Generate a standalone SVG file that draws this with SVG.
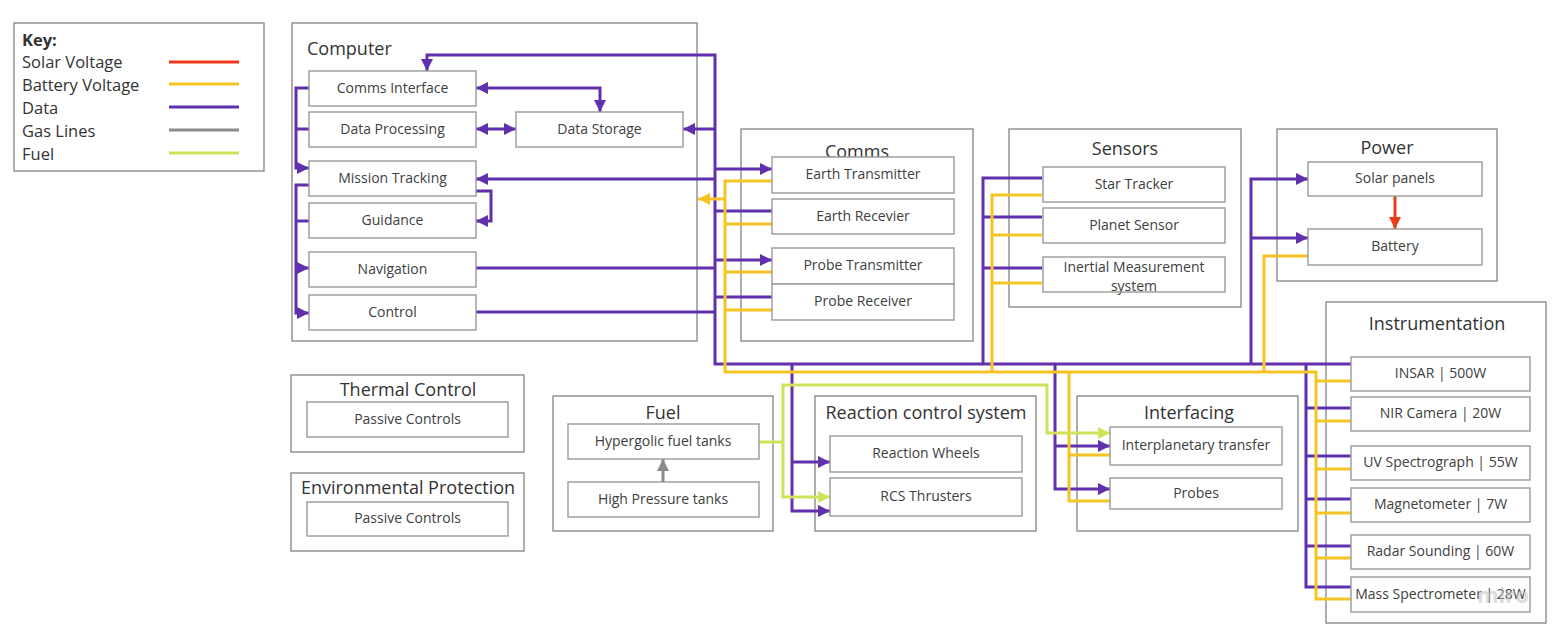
<svg xmlns="http://www.w3.org/2000/svg" width="1562" height="639" viewBox="0 0 1562 639">
<style>
.bg{fill:#fff}
.grp{fill:#fff;stroke:#8c8c8c;stroke-width:1.4}
.nd{fill:#fff;stroke:#9a9a9a;stroke-width:1.4}
.t{font-family:"Open Sans","Liberation Sans",sans-serif;font-size:14px;fill:#404040;text-anchor:middle}
.h{font-family:"Open Sans","Liberation Sans",sans-serif;font-size:18px;fill:#333;text-anchor:middle}
.k{font-family:"Open Sans","Liberation Sans",sans-serif;font-size:16.5px;fill:#333}
.c{fill:none;stroke-width:3;stroke-linejoin:miter}
.p{stroke:#6130ae}
.y{stroke:#f6c323}
.g{stroke:#d0e25a}
.r{stroke:#ee3a1a}
.gy{stroke:#8a8a8a}
</style>
<defs>
<marker id="ap" viewBox="0 0 10 10" refX="10" refY="5" markerWidth="13" markerHeight="12" markerUnits="userSpaceOnUse" orient="auto-start-reverse"><path d="M0,0 L10,5 L0,10 z" fill="#6130ae"/></marker>
<marker id="ay" viewBox="0 0 10 10" refX="10" refY="5" markerWidth="13" markerHeight="12" markerUnits="userSpaceOnUse" orient="auto-start-reverse"><path d="M0,0 L10,5 L0,10 z" fill="#f6c323"/></marker>
<marker id="ag" viewBox="0 0 10 10" refX="10" refY="5" markerWidth="13" markerHeight="12" markerUnits="userSpaceOnUse" orient="auto-start-reverse"><path d="M0,0 L10,5 L0,10 z" fill="#d0e25a"/></marker>
<marker id="ar" viewBox="0 0 10 10" refX="10" refY="5" markerWidth="13" markerHeight="12" markerUnits="userSpaceOnUse" orient="auto-start-reverse"><path d="M0,0 L10,5 L0,10 z" fill="#ee3a1a"/></marker>
<marker id="agy" viewBox="0 0 10 10" refX="10" refY="5" markerWidth="13" markerHeight="12" markerUnits="userSpaceOnUse" orient="auto-start-reverse"><path d="M0,0 L10,5 L0,10 z" fill="#8a8a8a"/></marker>
</defs>
<rect class="bg" x="0" y="0" width="1562" height="639"/>

<g id="key">
<rect class="grp" x="14" y="23" width="250" height="148"/>
<text class="k" x="22" y="46" font-weight="bold">Key:</text>
<text class="k" x="22" y="68">Solar Voltage</text>
<text class="k" x="22" y="91">Battery Voltage</text>
<text class="k" x="22" y="114">Data</text>
<text class="k" x="22" y="137">Gas Lines</text>
<text class="k" x="22" y="160">Fuel</text>
<line class="c r" x1="169" y1="62" x2="239" y2="62"/>
<line class="c y" x1="169" y1="84" x2="239" y2="84"/>
<line class="c p" x1="169" y1="107" x2="239" y2="107"/>
<line class="c gy" x1="169" y1="130" x2="239" y2="130"/>
<line class="c g" x1="169" y1="153" x2="239" y2="153"/>
</g>

<g id="computer"><rect class="grp" x="292" y="23" width="405" height="318"/><text class="h" x="307" y="55" style="text-anchor:start">Computer</text></g>
<g id="comms"><rect class="grp" x="741" y="129" width="232" height="212"/><text class="h" x="857" y="158">Comms</text></g>
<g id="sensors"><rect class="grp" x="1009" y="129" width="232" height="178"/><text class="h" x="1125" y="155">Sensors</text></g>
<g id="power"><rect class="grp" x="1277" y="129" width="220" height="152"/><text class="h" x="1387" y="154">Power</text></g>
<g id="instrumentation"><rect class="grp" x="1326" y="302" width="220" height="321"/><text class="h" x="1437" y="330">Instrumentation</text></g>
<g id="thermal-control"><rect class="grp" x="291" y="375" width="233" height="77"/><text class="h" x="408" y="396">Thermal Control</text></g>
<g id="environmental-protection"><rect class="grp" x="291" y="473" width="233" height="78"/><text class="h" x="408" y="494">Environmental Protection</text></g>
<g id="fuel"><rect class="grp" x="553" y="396" width="220" height="135"/><text class="h" x="663" y="419">Fuel</text></g>
<g id="rcs"><rect class="grp" x="815" y="396" width="221" height="135"/><text class="h" x="926" y="419">Reaction control system</text></g>
<g id="interfacing"><rect class="grp" x="1077" y="396" width="221" height="135"/><text class="h" x="1189" y="419">Interfacing</text></g>

<g id="connectors">
<path class="c p" d="M309,88 H296 V168 H309" marker-end="url(#ap)"/>
<path class="c p" d="M309,129 H296"/>
<path class="c p" d="M309,185 H296 V313 H309" marker-end="url(#ap)"/>
<path class="c p" d="M296,268 H309" marker-end="url(#ap)"/>
<path class="c p" d="M309,221 H296"/>
<path class="c p" d="M476,191 H491 V221 H476" marker-end="url(#ap)"/>
<path class="c p" d="M476,88 H600 V112" marker-start="url(#ap)" marker-end="url(#ap)"/>
<path class="c p" d="M476,129 H516" marker-start="url(#ap)" marker-end="url(#ap)"/>
<path class="c p" d="M427,71 V55 H715 V364 H1351" marker-start="url(#ap)"/>
<path class="c p" d="M715,129 H683" marker-end="url(#ap)"/>
<path class="c p" d="M715,179 H476" marker-end="url(#ap)"/>
<path class="c p" d="M715,169 H772" marker-end="url(#ap)"/>
<path class="c p" d="M715,211 H772"/>
<path class="c p" d="M715,260 H772" marker-end="url(#ap)"/>
<path class="c p" d="M715,297 H772"/>
<path class="c p" d="M476,268 H715"/>
<path class="c p" d="M476,312 H715"/>
<path class="c p" d="M792,364 V511 H830" marker-end="url(#ap)"/>
<path class="c p" d="M792,462 H830" marker-end="url(#ap)"/>
<path class="c p" d="M1042,178 H983 V364"/>
<path class="c p" d="M1042,217 H983"/>
<path class="c p" d="M1042,268 H983"/>
<path class="c p" d="M1055,364 V489 H1110" marker-end="url(#ap)"/>
<path class="c p" d="M1055,446 H1110" marker-end="url(#ap)"/>
<path class="c p" d="M1251,364 V179 H1308" marker-end="url(#ap)"/>
<path class="c p" d="M1251,238 H1308" marker-end="url(#ap)"/>
<path class="c p" d="M1306,364 V587 H1351"/>
<path class="c p" d="M1306,408 H1351 M1306,456 H1351 M1306,499 H1351 M1306,546 H1351"/>
<path class="c y" d="M772,181 H725 V372 H1316 V599 H1351"/>
<path class="c y" d="M725,199 H698" marker-end="url(#ay)"/>
<path class="c y" d="M772,224 H725 M772,272 H725 M772,310 H725"/>
<path class="c y" d="M1042,195 H992 V372"/>
<path class="c y" d="M1042,235 H992 M1042,283 H992"/>
<path class="c y" d="M1069,372 V501 H1110"/>
<path class="c y" d="M1069,455 H1110"/>
<path class="c y" d="M1308,256 H1264 V372"/>
<path class="c y" d="M1316,381 H1351 M1316,421 H1351 M1316,469 H1351 M1316,513 H1351 M1316,558 H1351"/>
<path class="c g" d="M759,442 H783 V497 H830" marker-end="url(#ag)"/>
<path class="c g" d="M783,442 V385 H1047 V433 H1110" marker-end="url(#ag)"/>
<path class="c gy" d="M663,482 V459" marker-end="url(#agy)"/>
<path class="c r" d="M1395,196 V229" marker-end="url(#ar)"/>
</g>

<g id="comms-interface"><rect class="nd" x="309" y="71" width="167" height="35"/><text class="t" x="392.5" y="93">Comms Interface</text></g>
<g id="data-processing"><rect class="nd" x="309" y="112" width="167" height="35"/><text class="t" x="392.5" y="134">Data Processing</text></g>
<g id="data-storage"><rect class="nd" x="516" y="112" width="167" height="35"/><text class="t" x="599.5" y="134">Data Storage</text></g>
<g id="mission-tracking"><rect class="nd" x="309" y="161" width="167" height="35"/><text class="t" x="392.5" y="183">Mission Tracking</text></g>
<g id="guidance"><rect class="nd" x="309" y="203" width="167" height="35"/><text class="t" x="392.5" y="225">Guidance</text></g>
<g id="navigation"><rect class="nd" x="309" y="252" width="167" height="35"/><text class="t" x="392.5" y="274">Navigation</text></g>
<g id="control"><rect class="nd" x="309" y="295" width="167" height="35"/><text class="t" x="392.5" y="317">Control</text></g>

<g id="earth-transmitter"><rect class="nd" x="772" y="157" width="182" height="36"/><text class="t" x="863" y="179">Earth Transmitter</text></g>
<g id="earth-receiver"><rect class="nd" x="772" y="199" width="182" height="35"/><text class="t" x="863" y="221">Earth Recevier</text></g>
<g id="probe-transmitter"><rect class="nd" x="772" y="248" width="182" height="36"/><text class="t" x="863" y="270">Probe Transmitter</text></g>
<g id="probe-receiver"><rect class="nd" x="772" y="284" width="182" height="36"/><text class="t" x="863" y="306">Probe Receiver</text></g>

<g id="star-tracker"><rect class="nd" x="1043" y="167" width="182" height="35"/><text class="t" x="1134" y="189">Star Tracker</text></g>
<g id="planet-sensor"><rect class="nd" x="1043" y="208" width="182" height="35"/><text class="t" x="1134" y="230">Planet Sensor</text></g>
<g id="inertial-measurement"><text class="t" x="1134" y="272">Inertial Measurement</text><text class="t" x="1134" y="291">system</text><rect class="nd" x="1043" y="257" width="182" height="35" style="fill:none"/></g>

<g id="solar-panels"><rect class="nd" x="1308" y="162" width="174" height="34"/><text class="t" x="1395" y="183">Solar panels</text></g>
<g id="battery"><rect class="nd" x="1308" y="229" width="174" height="36"/><text class="t" x="1395" y="251">Battery</text></g>

<g id="insar"><rect class="nd" x="1351" y="357" width="179" height="34"/><text class="t" x="1440.5" y="378">INSAR | 500W</text></g>
<g id="nir-camera"><rect class="nd" x="1351" y="397" width="179" height="34"/><text class="t" x="1440.5" y="418">NIR Camera | 20W</text></g>
<g id="uv-spectrograph"><rect class="nd" x="1351" y="446" width="179" height="34"/><text class="t" x="1440.5" y="467">UV Spectrograph | 55W</text></g>
<g id="magnetometer"><rect class="nd" x="1351" y="488" width="179" height="34"/><text class="t" x="1440.5" y="509">Magnetometer | 7W</text></g>
<g id="radar-sounding"><rect class="nd" x="1351" y="535" width="179" height="34"/><text class="t" x="1440.5" y="556">Radar Sounding | 60W</text></g>
<g id="mass-spectrometer"><rect class="nd" x="1351" y="577" width="179" height="35"/><text class="t" x="1440.5" y="599">Mass Spectrometer | 28W</text></g>

<g id="thermal-passive"><rect class="nd" x="307" y="402" width="201" height="35"/><text class="t" x="407.5" y="424">Passive Controls</text></g>
<g id="env-passive"><rect class="nd" x="307" y="502" width="201" height="34"/><text class="t" x="407.5" y="523">Passive Controls</text></g>

<g id="hypergolic"><rect class="nd" x="568" y="424" width="191" height="35"/><text class="t" x="663" y="446">Hypergolic fuel tanks</text></g>
<g id="high-pressure"><rect class="nd" x="568" y="482" width="191" height="35"/><text class="t" x="663" y="504">High Pressure tanks</text></g>

<g id="reaction-wheels"><rect class="nd" x="830" y="436" width="192" height="36"/><text class="t" x="926" y="458">Reaction Wheels</text></g>
<g id="rcs-thrusters"><rect class="nd" x="830" y="478" width="192" height="38"/><text class="t" x="926" y="501">RCS Thrusters</text></g>

<g id="interplanetary"><rect class="nd" x="1110" y="427" width="172" height="38"/><text class="t" x="1196" y="450">Interplanetary transfer</text></g>
<g id="probes"><rect class="nd" x="1110" y="478" width="172" height="31"/><text class="t" x="1196" y="498">Probes</text></g>

<text x="1477" y="603" font-family="'Open Sans','Liberation Sans',sans-serif" font-size="22" font-weight="bold" fill="#c8c8c8" opacity="0.6">miro</text>
</svg>
